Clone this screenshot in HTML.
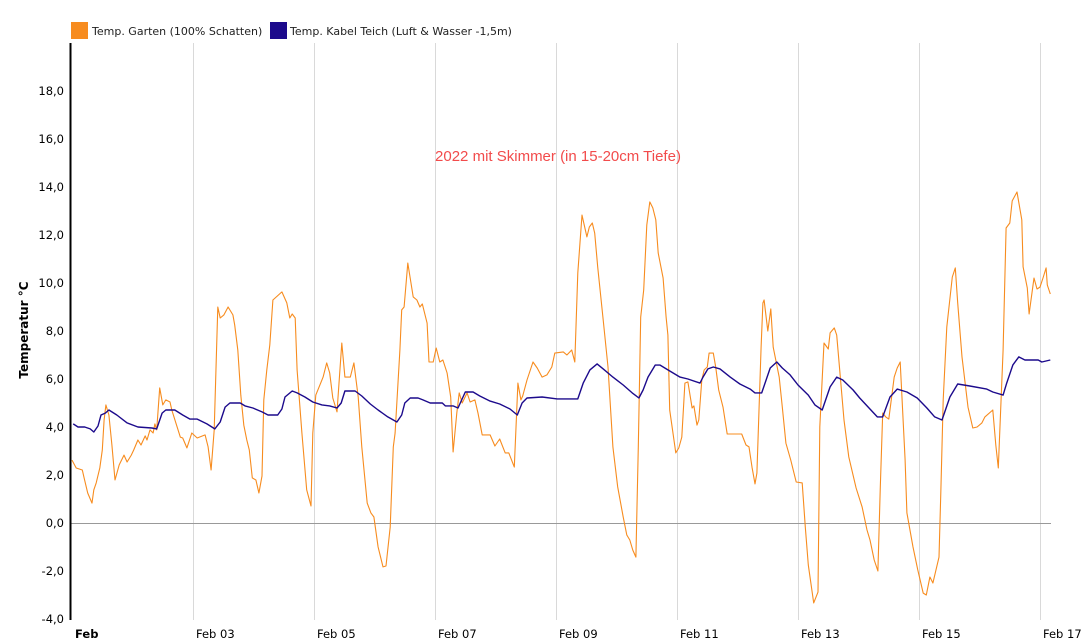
<!DOCTYPE html>
<html><head><meta charset="utf-8"><style>
body{margin:0;background:#fff;}
svg{display:block;font-family:"DejaVu Sans","Liberation Sans",sans-serif;}
</style></head><body>
<svg id="chart" width="1081" height="642" viewBox="0 0 1081 642">
<g>
<g><rect x="71" y="22" width="17" height="17" fill="#f78c1f"/><text x="92" y="35" font-size="11" fill="#222">Temp. Garten (100% Schatten)</text></g>
<g><rect x="270" y="22" width="17" height="17" fill="#1c0a8c"/><text x="290" y="35" font-size="11" fill="#222">Temp. Kabel Teich (Luft &amp; Wasser -1,5m)</text></g>
</g>
<g id="grid"></g>
<g id="yticks"></g>
<g id="xticks"></g>
<text x="28" y="330" transform="rotate(-90 28 330)" text-anchor="middle" font-size="12" font-weight="bold" fill="#000">Temperatur °C</text>
<text x="558" y="161" text-anchor="middle" font-size="15" fill="#f24b4b" font-family="Liberation Sans, sans-serif">2022 mit Skimmer (in 15-20cm Tiefe)</text>
<g id="series"></g>
<line x1="70.5" y1="43" x2="70.5" y2="620" stroke="#000" stroke-width="2"/>
</svg>
<script>
const yTicks=[-4,-2,0,2,4,6,8,10,12,14,16,18];
const xTickDays=[0,2,4,6,8,10,12,14,16];
const xTickLabels=["Feb","Feb 03","Feb 05","Feb 07","Feb 09","Feb 11","Feb 13","Feb 15","Feb 17"];
const gartenDays=[0,.07,.17,.20,.26,.33,.36,.40,.46,.50,.53,.56,.61,.66,.71,.78,.86,.91,.98,1.02,1.09,1.14,1.21,1.24,1.29,1.34,1.37,1.40,1.45,1.50,1.55,1.62,1.65,1.79,1.83,1.90,1.98,2.07,2.20,2.25,2.30,2.35,2.41,2.45,2.51,2.58,2.66,2.69,2.74,2.79,2.84,2.89,2.93,2.98,3.04,3.09,3.14,3.17,3.22,3.27,3.32,3.47,3.55,3.60,3.64,3.69,3.72,3.80,3.88,3.95,3.98,4.03,4.15,4.21,4.26,4.31,4.38,4.46,4.51,4.60,4.66,4.73,4.79,4.88,4.94,4.99,5.06,5.14,5.19,5.26,5.31,5.34,5.42,5.45,5.49,5.55,5.64,5.70,5.75,5.79,5.87,5.90,5.97,6.02,6.08,6.13,6.20,6.26,6.30,6.36,6.40,6.45,6.53,6.58,6.66,6.71,6.78,6.91,6.99,7.07,7.16,7.22,7.31,7.37,7.42,7.45,7.52,7.62,7.69,7.77,7.85,7.93,7.98,8.12,8.18,8.26,8.31,8.36,8.43,8.51,8.55,8.60,8.64,8.69,8.78,8.86,8.94,9.02,9.11,9.17,9.22,9.27,9.32,9.36,9.40,9.45,9.50,9.55,9.60,9.65,9.69,9.77,9.82,9.85,9.88,9.98,10.03,10.08,10.13,10.18,10.25,10.28,10.33,10.36,10.41,10.45,10.50,10.53,10.60,10.64,10.69,10.76,10.83,11.07,11.14,11.19,11.24,11.29,11.32,11.39,11.42,11.44,11.50,11.55,11.59,11.69,11.74,11.80,11.88,11.97,12.07,12.12,12.17,12.26,12.33,12.36,12.43,12.50,12.53,12.60,12.64,12.69,12.76,12.84,12.96,13.06,13.14,13.19,13.26,13.32,13.36,13.40,13.45,13.50,13.59,13.64,13.69,13.72,13.77,13.80,13.90,13.98,14.07,14.12,14.18,14.23,14.33,14.36,14.40,14.46,14.55,14.60,14.64,14.71,14.81,14.89,14.96,15.04,15.09,15.22,15.27,15.31,15.39,15.44,15.50,15.54,15.62,15.70,15.72,15.79,15.82,15.90,15.95,16.0,16.05,16.10,16.12,16.17];
const gartenValues=[2.62,2.29,2.21,1.88,1.25,.83,1.38,1.67,2.29,3.04,4.29,4.92,4.5,3.25,1.79,2.42,2.83,2.54,2.83,3.04,3.46,3.25,3.63,3.46,3.88,3.75,4.13,3.88,5.63,4.92,5.13,5.04,4.71,3.58,3.54,3.13,3.75,3.54,3.67,3.17,2.21,3.88,9.0,8.54,8.67,9.0,8.67,8.25,7.21,5.33,4.08,3.46,3.04,1.88,1.79,1.25,1.96,5.13,6.38,7.42,9.29,9.63,9.17,8.54,8.71,8.54,6.38,3.75,1.38,.71,3.75,5.33,6.08,6.67,6.25,5.21,4.63,7.5,6.08,6.08,6.67,5.25,3.17,.83,.42,.25,-1.0,-1.83,-1.79,-.17,3.17,3.75,7.21,8.88,9.0,10.83,9.42,9.29,9.0,9.13,8.33,6.71,6.71,7.29,6.71,6.79,6.25,5.25,2.96,4.58,5.42,5.0,5.42,5.04,5.13,4.58,3.67,3.67,3.21,3.5,2.92,2.92,2.33,5.83,5.13,5.29,5.96,6.71,6.46,6.08,6.17,6.5,7.08,7.13,7.0,7.21,6.71,10.42,12.83,11.92,12.33,12.5,12.08,10.67,8.46,6.5,3.17,1.5,.25,-.5,-.71,-1.13,-1.42,3.17,8.58,9.71,12.42,13.38,13.13,12.63,11.25,10.21,8.58,7.83,4.71,2.92,3.13,3.58,5.83,5.88,4.79,4.88,4.08,4.29,5.96,6.38,6.5,7.08,7.08,6.5,5.54,4.83,3.71,3.71,3.25,3.17,2.33,1.63,2.08,7.33,9.17,9.29,8.0,8.92,7.33,6.08,4.83,3.33,2.63,1.71,1.67,-.17,-1.75,-3.33,-2.88,4.0,7.5,7.25,7.92,8.13,7.83,6.38,4.29,2.75,1.46,.67,-.29,-.71,-1.54,-2.0,1.5,4.58,4.42,4.33,6.08,6.46,6.71,5.13,2.63,.42,-1.0,-1.96,-2.92,-3.0,-2.25,-2.5,-1.42,1.25,5.13,8.17,10.25,10.63,9.17,6.92,4.83,3.96,4.0,4.17,4.42,4.71,3.25,2.29,7.21,12.29,12.5,13.42,13.79,12.63,10.67,9.79,8.71,10.21,9.75,9.83,10.21,10.63,9.92,9.54];
const teichDays=[.02,.10,.21,.30,.36,.43,.48,.55,.61,.74,.91,1.09,1.32,1.40,1.49,1.55,1.70,1.83,1.95,2.07,2.23,2.36,2.45,2.53,2.61,2.78,2.86,2.99,3.14,3.24,3.40,3.47,3.52,3.64,3.72,3.85,3.98,4.13,4.26,4.38,4.45,4.51,4.68,4.79,4.93,5.06,5.22,5.37,5.45,5.50,5.59,5.72,5.80,5.92,6.12,6.17,6.30,6.38,6.50,6.63,6.74,6.91,7.07,7.24,7.36,7.44,7.52,7.77,8.02,8.36,8.45,8.56,8.68,8.78,8.94,9.11,9.26,9.37,9.44,9.52,9.64,9.72,9.85,10.05,10.18,10.38,10.43,10.51,10.60,10.71,10.88,11.04,11.21,11.29,11.40,11.54,11.65,11.74,11.87,12.0,12.17,12.28,12.40,12.53,12.64,12.74,12.91,13.02,13.16,13.31,13.40,13.52,13.64,13.80,13.97,14.13,14.26,14.38,14.51,14.64,14.84,15.12,15.22,15.39,15.45,15.55,15.65,15.75,15.97,16.03,16.17];
const teichValues=[4.13,4.0,4.0,3.92,3.79,4.04,4.5,4.58,4.71,4.5,4.17,4.0,3.96,3.92,4.58,4.71,4.71,4.5,4.33,4.33,4.13,3.92,4.21,4.83,5.0,5.0,4.88,4.79,4.63,4.5,4.5,4.75,5.25,5.5,5.42,5.25,5.04,4.92,4.88,4.79,5.0,5.5,5.5,5.29,4.96,4.71,4.42,4.21,4.5,5.0,5.21,5.21,5.13,5.0,5.0,4.88,4.88,4.79,5.46,5.46,5.29,5.08,4.96,4.75,4.5,5.0,5.21,5.25,5.17,5.17,5.83,6.38,6.63,6.42,6.08,5.75,5.42,5.21,5.54,6.08,6.58,6.58,6.38,6.08,6.0,5.83,6.08,6.42,6.5,6.42,6.08,5.79,5.58,5.42,5.42,6.46,6.71,6.46,6.17,5.75,5.33,4.92,4.71,5.67,6.08,5.96,5.54,5.21,4.83,4.42,4.42,5.25,5.58,5.46,5.21,4.79,4.42,4.29,5.25,5.79,5.71,5.58,5.46,5.33,5.83,6.58,6.92,6.79,6.79,6.71,6.79];

const NS="http://www.w3.org/2000/svg";
const xS=d=>72+60.5*d;
const yS=v=>523-24*v;
function mk(tag,attrs,parent){const e=document.createElementNS(NS,tag);for(const k in attrs)e.setAttribute(k,attrs[k]);parent.appendChild(e);return e;}
const grid=document.getElementById('grid'),yt=document.getElementById('yticks'),xt=document.getElementById('xticks'),series=document.getElementById('series');
xTickDays.forEach((d,i)=>{
  if(d>0){const l=mk('line',{x1:xS(d)+.5,x2:xS(d)+.5,y1:43,y2:620,stroke:'#d9d9d9','stroke-width':1},grid);
  
  }
  const t=mk('text',{x:d===0?75:xS(d)+3,y:638,'font-size':11.5,fill:'#000','font-weight':d===0?'bold':'normal'},xt);
  t.textContent=xTickLabels[i];
  
  
});
yTicks.forEach(v=>{
  const t=mk('text',{x:64,y:yS(v)+4,'text-anchor':'end','font-size':11.5,fill:'#000'},yt);
  t.textContent=v.toFixed(1).replace('.',',');
  
  
});
const zl=mk('line',{x1:71,x2:1051,y1:yS(0)+.5,y2:yS(0)+.5,stroke:'#999','stroke-width':1},grid);


function path(days,vals,color,w,name){
  const d=days.map((t,i)=>(i?'L':'M')+xS(t).toFixed(1)+' '+yS(vals[i]).toFixed(1)).join('');
  const p=mk('path',{d:d,fill:'none',stroke:color,'stroke-width':w,'stroke-linejoin':'round'},series);
  
  
}
path(gartenDays,gartenValues,'#f78c1f',1.1,'line-garten');
path(teichDays,teichValues,'#1c0a8c',1.4,'line-teich');
</script>
</body></html>
